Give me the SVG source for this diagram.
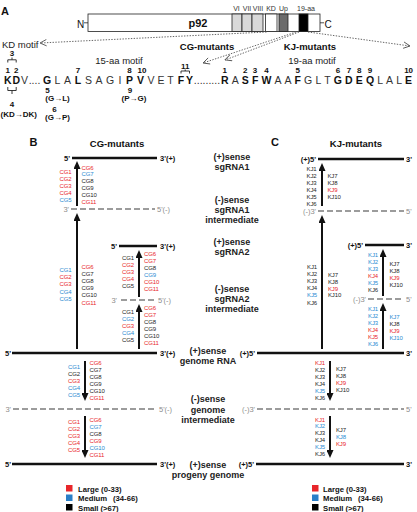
<svg xmlns="http://www.w3.org/2000/svg" width="417" height="512" viewBox="0 0 417 512">
<defs>
<style>
text{font-family:"Liberation Sans",Arial,sans-serif}
.ttl{font-size:11px;font-weight:bold;fill:#111}
.hd{font-size:9.5px;font-weight:bold;fill:#111;text-anchor:middle}
.dom{font-size:7px;fill:#333;text-anchor:middle}
.seq{font-size:10.5px;fill:#333;text-anchor:middle}
.seq .b{font-weight:bold;fill:#111}
.num{font-size:8px;font-weight:bold;fill:#111;text-anchor:middle}
.num.st{text-anchor:start}
.mot{font-size:9.5px;fill:#222}
.brk{fill:none;stroke:#222;stroke-width:0.9}
.dot{fill:none;stroke:#555;stroke-width:0.9;stroke-dasharray:1.4 1.4;marker-end:url(#open)}
.plus{stroke:#111;stroke-width:2.4}
.minus{stroke:#9c9c9c;stroke-width:1.8;stroke-dasharray:6 3}
.end{font-size:7.5px;font-weight:bold;fill:#111}
.endm{font-size:7.5px;fill:#8c8c8c}
.lbl{font-size:9px;font-weight:bold;fill:#222;text-anchor:middle}
.arr{stroke:#111;stroke-width:2;marker-end:url(#head)}
.mut{font-size:6px;letter-spacing:-0.15px}
.r{fill:#e8262a}.u{fill:#2a8bd2}.k{fill:#262626}
.leg{font-size:7.7px;font-weight:bold;fill:#111}
.seg{stroke:#222;stroke-width:0.8}
</style>
<marker id="open" viewBox="0 0 8 8" refX="7.5" refY="4" markerWidth="8" markerHeight="8" markerUnits="userSpaceOnUse" orient="auto">
<path d="M1,0.8 L7.5,4 L1,7.2" fill="none" stroke="#555" stroke-width="0.9"/>
</marker>
<marker id="head" viewBox="0 0 8 7" refX="1" refY="3.5" markerWidth="8" markerHeight="7" markerUnits="userSpaceOnUse" orient="auto">
<path d="M0,0 L8,3.5 L0,7 z" fill="#111"/>
</marker>
</defs>

<!-- Panel A: p92 domain bar -->
<g id="panel-a">
<text class="ttl" x="1" y="15">A</text>
<g id="p92-bar">
<text x="77" y="27.5" font-size="10" fill="#111">N</text>
<line x1="84" y1="22.8" x2="88" y2="22.8" stroke="#222" stroke-width="0.8"/>
<rect class="seg" x="88" y="14" width="232" height="17.5" fill="#fff"/>
<rect class="seg" x="232" y="14" width="10" height="17.5" fill="#d9d9d9"/>
<rect class="seg" x="242" y="14" width="10" height="17.5" fill="#d9d9d9"/>
<rect class="seg" x="252" y="14" width="11" height="17.5" fill="#d9d9d9"/>
<rect class="seg" x="265.5" y="14" width="11.5" height="17.5" fill="#fff"/>
<rect class="seg" x="279" y="14" width="9" height="17.5" fill="#6b6b6b"/>
<rect class="seg" x="299" y="14" width="9" height="17.5" fill="#000"/>
<line x1="320" y1="22.8" x2="324" y2="22.8" stroke="#222" stroke-width="0.8"/>
<text x="324.5" y="27.5" font-size="10" fill="#111">C</text>
<text x="198" y="27" font-size="11" font-weight="bold" fill="#111" text-anchor="middle">p92</text>
<text class="dom" x="236.5" y="11">VI</text>
<text class="dom" x="247" y="11">VII</text>
<text class="dom" x="258" y="11">VIII</text>
<text class="dom" x="271" y="11">KD</text>
<text class="dom" x="283.5" y="11">Up</text>
<text class="dom" x="306" y="11">19-aa</text>
</g>

<g id="motif-pointers">
<line class="dot" x1="266.5" y1="32" x2="40" y2="43"/>
<line class="dot" x1="296" y1="32" x2="203" y2="63"/>
<line class="dot" x1="299" y1="32" x2="225" y2="60"/>
<line class="dot" x1="308" y1="32" x2="410" y2="46"/>
</g>

<g id="motif-heads">
<text class="mot" x="2" y="47.5">KD motif</text>
<text class="hd" x="207" y="50">CG-mutants</text>
<text class="hd" x="310" y="50">KJ-mutants</text>
<text class="mot" x="119" y="63.5" text-anchor="middle">15-aa motif</text>
<text class="mot" x="312" y="63.5" text-anchor="middle">19-aa motif</text>
</g>

<g id="motif-sequence">
<text class="seq" y="84"><tspan class="b" x="7.8">K</tspan><tspan class="b" x="16.2">D</tspan><tspan x="24.5">V</tspan><tspan x="34.5">....</tspan><tspan class="b" x="47">G</tspan><tspan x="57.5">L</tspan><tspan x="67.5">A</tspan><tspan class="b" x="78">L</tspan><tspan x="88.5">S</tspan><tspan x="99">A</tspan><tspan x="110">G</tspan><tspan x="120">I</tspan><tspan class="b" x="129.5">P</tspan><tspan class="b" x="140.5">V</tspan><tspan x="151">V</tspan><tspan x="161">E</tspan><tspan x="170.5">T</tspan><tspan class="b" x="181">F</tspan><tspan class="b" x="189.5">Y</tspan><tspan x="207">.........</tspan><tspan class="b" x="224.8">R</tspan><tspan x="235.2">A</tspan><tspan class="b" x="245.3">S</tspan><tspan class="b" x="255.1">F</tspan><tspan class="b" x="266.4">W</tspan><tspan x="277.9">A</tspan><tspan x="288">A</tspan><tspan class="b" x="297.8">F</tspan><tspan x="308.2">G</tspan><tspan x="318.3">L</tspan><tspan x="327.5">T</tspan><tspan class="b" x="337.9">G</tspan><tspan class="b" x="348.9">D</tspan><tspan class="b" x="359.3">E</tspan><tspan class="b" x="370">Q</tspan><tspan x="380.1">L</tspan><tspan x="389.6">A</tspan><tspan x="399.1">L</tspan><tspan class="b" x="408.6">E</tspan></text>
<text class="num" y="72.5"><tspan x="7.8">1</tspan><tspan x="16.2">2</tspan><tspan x="78">7</tspan><tspan x="129.5">8</tspan><tspan x="142">10</tspan><tspan x="224.8">1</tspan><tspan x="245.3">2</tspan><tspan x="255.1">3</tspan><tspan x="266.4">4</tspan><tspan x="297.8">5</tspan><tspan x="337.9">6</tspan><tspan x="348.9">7</tspan><tspan x="359.3">8</tspan><tspan x="370">9</tspan><tspan x="408.6">10</tspan></text>
<text class="num" x="12" y="56">3</text>
<path class="brk" d="M7.8,62.5 V59.8 H16.2 V62.5 M12,59.8 V57.5"/>
<text class="num" x="185.2" y="68.5">11</text>
<path class="brk" d="M181,73.5 V71 H189.5 V73.5 M185.2,71 V69.5"/>
<path class="brk" d="M7.8,87 V90.5 H16.2 V87 M12,90.5 V94"/>
<text class="num" x="12" y="106.5">4</text>
<text class="num st" x="0.5" y="117" font-size="8.5">(KD→DK)</text>
<text class="num" x="47.5" y="93">5</text>
<text class="num" x="57.5" y="101" font-size="8.5">(G→L)</text>
<text class="num" x="54.5" y="112">6</text>
<text class="num" x="57.5" y="119.5" font-size="8.5">(G→P)</text>
<text class="num" x="130" y="93">9</text>
<text class="num" x="134" y="101" font-size="8.5">(P→G)</text>
</g>
</g>

<!-- Panel titles -->
<text class="ttl" x="29.5" y="146">B</text>
<text class="hd" x="117" y="146.5">CG-mutants</text>
<text class="ttl" x="271" y="146">C</text>
<text class="hd" x="356" y="146.5">KJ-mutants</text>

<!-- Replication intermediate labels -->
<g id="stage-labels">
<text class="lbl" x="232" y="160">(+)sense</text>
<text class="lbl" x="232" y="170">sgRNA1</text>
<text class="lbl" x="232" y="203">(-)sense</text>
<text class="lbl" x="232" y="213">sgRNA1</text>
<text class="lbl" x="232" y="223">intermediate</text>
<text class="lbl" x="232" y="245">(+)sense</text>
<text class="lbl" x="232" y="255">sgRNA2</text>
<text class="lbl" x="232" y="292">(-)sense</text>
<text class="lbl" x="232" y="302">sgRNA2</text>
<text class="lbl" x="232" y="312">intermediate</text>
<text class="lbl" x="208" y="354">(+)sense</text>
<text class="lbl" x="208" y="364">genome RNA</text>
<text class="lbl" x="208" y="402">(-)sense</text>
<text class="lbl" x="208" y="413">genome</text>
<text class="lbl" x="208" y="423">intermediate</text>
<text class="lbl" x="208" y="468">(+)sense</text>
<text class="lbl" x="208" y="478">progeny genome</text>
</g>

<!-- Panel B strands -->
<g id="cg-sgrna1">
<line class="plus" x1="72" y1="158" x2="157" y2="158"/>
<text class="end" x="70" y="160.7" text-anchor="end">5'</text>
<text class="end" x="160" y="160.7">3'(+)</text>
</g>
<g id="cg-sgrna1-minus">
<line class="minus" x1="71" y1="209" x2="155" y2="209"/>
<text class="endm" x="69" y="211.7" text-anchor="end">3'</text>
<text class="endm" x="157" y="211.7">5'(-)</text>
</g>
<g id="cg-sgrna2">
<line class="plus" x1="119" y1="246" x2="157" y2="246"/>
<text class="end" x="117" y="248.7" text-anchor="end">5'</text>
<text class="end" x="160" y="248.7">3'(+)</text>
</g>
<g id="cg-sgrna2-minus">
<line class="minus" x1="121" y1="300" x2="156" y2="300"/>
<text class="endm" x="117" y="302.7" text-anchor="end">3'</text>
<text class="endm" x="158" y="302.7">5'(-)</text>
</g>
<g id="cg-genome">
<line class="plus" x1="12" y1="353" x2="157" y2="353"/>
<text class="end" x="11" y="355.7" text-anchor="end">5'</text>
<text class="end" x="160" y="355.7">3'(+)</text>
</g>
<g id="cg-genome-minus">
<line class="minus" x1="13" y1="409" x2="156" y2="409"/>
<text class="endm" x="11" y="411.7" text-anchor="end">3'</text>
<text class="endm" x="159" y="411.7">5'(-)</text>
</g>
<g id="cg-progeny">
<line class="plus" x1="12" y1="464" x2="157" y2="464"/>
<text class="end" x="11" y="466.7" text-anchor="end">5'</text>
<text class="end" x="160" y="466.7">3'(+)</text>
</g>

<!-- Panel C strands -->
<g id="kj-sgrna1">
<line class="plus" x1="318" y1="159" x2="404" y2="159"/>
<text class="end" x="316" y="161.7" text-anchor="end">(+)5'</text>
<text class="end" x="406" y="161.7">3'</text>
</g>
<g id="kj-sgrna1-minus">
<line class="minus" x1="318" y1="211" x2="404" y2="211"/>
<text class="endm" x="316" y="213.7" text-anchor="end">(-)3'</text>
<text class="endm" x="406" y="213.7">5'</text>
</g>
<g id="kj-sgrna2">
<line class="plus" x1="365" y1="245" x2="404" y2="245"/>
<text class="end" x="363" y="247.7" text-anchor="end">(+)5'</text>
<text class="end" x="406" y="247.7">3'</text>
</g>
<g id="kj-sgrna2-minus">
<line class="minus" x1="368" y1="299" x2="404" y2="299"/>
<text class="endm" x="366" y="301.7" text-anchor="end">(-)3'</text>
<text class="endm" x="406" y="301.7">5'</text>
</g>
<g id="kj-genome">
<line class="plus" x1="257" y1="353" x2="404" y2="353"/>
<text class="end" x="255" y="355.7" text-anchor="end">(+)5'</text>
<text class="end" x="406" y="355.7">3'</text>
</g>
<g id="kj-genome-minus">
<line class="minus" x1="257" y1="409" x2="404" y2="409"/>
<text class="endm" x="255" y="411.7" text-anchor="end">(-)3'</text>
<text class="endm" x="406" y="411.7">5'</text>
</g>
<g id="kj-progeny">
<line class="plus" x1="256" y1="464" x2="404" y2="464"/>
<text class="end" x="254" y="466.7" text-anchor="end">(+)5'</text>
<text class="end" x="406" y="466.7">3'</text>
</g>

<!-- Synthesis steps with mutant accumulation per step -->
<g id="connectors">
<g id="cg-step-sg1">
<line class="arr" x1="77" y1="206" x2="77" y2="168"/>
<text class="mut" text-anchor="end"><tspan x="71.5" y="174" class="r">CG1</tspan><tspan x="71.5" dy="6.9" class="r">CG2</tspan><tspan x="71.5" dy="6.9" class="r">CG3</tspan><tspan x="71.5" dy="6.9" class="r">CG4</tspan><tspan x="71.5" dy="6.9" class="u">CG5</tspan></text>
<text class="mut"><tspan x="81.5" y="169.5" class="r">CG6</tspan><tspan x="81.5" dy="6.9" class="u">CG7</tspan><tspan x="81.5" dy="6.9" class="k">CG8</tspan><tspan x="81.5" dy="6.9" class="k">CG9</tspan><tspan x="81.5" dy="6.9" class="k">CG10</tspan><tspan x="81.5" dy="6.9" class="r">CG11</tspan></text>
</g>
<g id="cg-step-sg1-minus">
<line class="arr" x1="77" y1="349" x2="77" y2="220"/>
<text class="mut" text-anchor="end"><tspan x="71.5" y="272.2" class="u">CG1</tspan><tspan x="71.5" dy="7.1" class="r">CG2</tspan><tspan x="71.5" dy="7.1" class="r">CG3</tspan><tspan x="71.5" dy="7.1" class="u">CG4</tspan><tspan x="71.5" dy="7.1" class="u">CG5</tspan></text>
<text class="mut"><tspan x="81.5" y="269" class="r">CG6</tspan><tspan x="81.5" dy="7.1" class="k">CG7</tspan><tspan x="81.5" dy="7.1" class="k">CG8</tspan><tspan x="81.5" dy="7.1" class="k">CG9</tspan><tspan x="81.5" dy="7.1" class="k">CG10</tspan><tspan x="81.5" dy="7.1" class="r">CG11</tspan></text>
</g>
<g id="cg-step-sg2">
<line class="arr" x1="139" y1="297" x2="139" y2="257"/>
<text class="mut" text-anchor="end"><tspan x="134" y="260" class="k">CG1</tspan><tspan x="134" dy="7" class="r">CG2</tspan><tspan x="134" dy="7" class="r">CG3</tspan><tspan x="134" dy="7" class="r">CG4</tspan><tspan x="134" dy="7" class="k">CG5</tspan></text>
<text class="mut"><tspan x="144" y="255.5" class="r">CG6</tspan><tspan x="144" dy="7" class="r">CG7</tspan><tspan x="144" dy="7" class="k">CG8</tspan><tspan x="144" dy="7" class="u">CG9</tspan><tspan x="144" dy="7" class="r">CG10</tspan><tspan x="144" dy="7" class="r">CG11</tspan></text>
</g>
<g id="cg-step-sg2-minus">
<line class="arr" x1="139" y1="349" x2="139" y2="311"/>
<text class="mut" text-anchor="end"><tspan x="134" y="314" class="k">CG1</tspan><tspan x="134" dy="7" class="u">CG2</tspan><tspan x="134" dy="7" class="r">CG3</tspan><tspan x="134" dy="7" class="u">CG4</tspan><tspan x="134" dy="7" class="k">CG5</tspan></text>
<text class="mut"><tspan x="144" y="309.5" class="r">CG6</tspan><tspan x="144" dy="7" class="r">CG7</tspan><tspan x="144" dy="7" class="k">CG8</tspan><tspan x="144" dy="7" class="k">CG9</tspan><tspan x="144" dy="7" class="k">CG10</tspan><tspan x="144" dy="7" class="r">CG11</tspan></text>
</g>
<g id="cg-step-genome-minus">
<line class="arr" x1="85" y1="361" x2="85" y2="394"/>
<text class="mut" text-anchor="end"><tspan x="80" y="369" class="u">CG1</tspan><tspan x="80" dy="6.9" class="k">CG2</tspan><tspan x="80" dy="6.9" class="r">CG3</tspan><tspan x="80" dy="6.9" class="u">CG4</tspan><tspan x="80" dy="6.9" class="u">CG5</tspan></text>
<text class="mut"><tspan x="89.5" y="365" class="r">CG6</tspan><tspan x="89.5" dy="7" class="k">CG7</tspan><tspan x="89.5" dy="7" class="k">CG8</tspan><tspan x="89.5" dy="7" class="k">CG9</tspan><tspan x="89.5" dy="7" class="k">CG10</tspan><tspan x="89.5" dy="7" class="r">CG11</tspan></text>
</g>
<g id="cg-step-progeny">
<line class="arr" x1="85" y1="416" x2="85" y2="451"/>
<text class="mut" text-anchor="end"><tspan x="80" y="424" class="r">CG1</tspan><tspan x="80" dy="7" class="r">CG2</tspan><tspan x="80" dy="7" class="r">CG3</tspan><tspan x="80" dy="7" class="r">CG4</tspan><tspan x="80" dy="7" class="r">CG5</tspan></text>
<text class="mut"><tspan x="89.5" y="421.5" class="r">CG6</tspan><tspan x="89.5" dy="7" class="u">CG7</tspan><tspan x="89.5" dy="7" class="k">CG8</tspan><tspan x="89.5" dy="7" class="r">CG9</tspan><tspan x="89.5" dy="7" class="u">CG10</tspan><tspan x="89.5" dy="7" class="r">CG11</tspan></text>
</g>

<g id="kj-step-sg1">
<line class="arr" x1="322" y1="206" x2="322" y2="170"/>
<text class="mut" text-anchor="end"><tspan x="316.5" y="170.5" class="k">KJ1</tspan><tspan x="316.5" dy="7" class="k">KJ2</tspan><tspan x="316.5" dy="7" class="k">KJ3</tspan><tspan x="316.5" dy="7" class="k">KJ4</tspan><tspan x="316.5" dy="7" class="k">KJ5</tspan><tspan x="316.5" dy="7" class="k">KJ6</tspan></text>
<text class="mut"><tspan x="327.5" y="178" class="k">KJ7</tspan><tspan x="327.5" dy="7" class="k">KJ8</tspan><tspan x="327.5" dy="7" class="r">KJ9</tspan><tspan x="327.5" dy="7" class="k">KJ10</tspan></text>
</g>
<g id="kj-step-sg1-minus">
<line class="arr" x1="322" y1="349" x2="322" y2="222"/>
<text class="mut" text-anchor="end"><tspan x="317" y="269" class="k">KJ1</tspan><tspan x="317" dy="7.1" class="k">KJ2</tspan><tspan x="317" dy="7.1" class="k">KJ3</tspan><tspan x="317" dy="7.1" class="k">KJ4</tspan><tspan x="317" dy="7.1" class="u">KJ5</tspan><tspan x="317" dy="7.1" class="k">KJ6</tspan></text>
<text class="mut"><tspan x="328" y="277" class="k">KJ7</tspan><tspan x="328" dy="6.8" class="k">KJ8</tspan><tspan x="328" dy="6.8" class="r">KJ9</tspan><tspan x="328" dy="6.8" class="k">KJ10</tspan></text>
</g>
<g id="kj-step-sg2">
<line class="arr" x1="383" y1="296" x2="383" y2="256"/>
<text class="mut" text-anchor="end"><tspan x="378" y="256.5" class="u">KJ1</tspan><tspan x="378" dy="7" class="u">KJ2</tspan><tspan x="378" dy="7" class="u">KJ3</tspan><tspan x="378" dy="7" class="r">KJ4</tspan><tspan x="378" dy="7" class="u">KJ5</tspan><tspan x="378" dy="7" class="k">KJ6</tspan></text>
<text class="mut"><tspan x="389.5" y="265.5" class="k">KJ7</tspan><tspan x="389.5" dy="7" class="k">KJ8</tspan><tspan x="389.5" dy="7" class="r">KJ9</tspan><tspan x="389.5" dy="7" class="k">KJ10</tspan></text>
</g>
<g id="kj-step-sg2-minus">
<line class="arr" x1="383" y1="349" x2="383" y2="310"/>
<text class="mut" text-anchor="end"><tspan x="378" y="310.5" class="u">KJ1</tspan><tspan x="378" dy="7" class="u">KJ2</tspan><tspan x="378" dy="7" class="u">KJ3</tspan><tspan x="378" dy="7" class="r">KJ4</tspan><tspan x="378" dy="7" class="r">KJ5</tspan><tspan x="378" dy="7" class="u">KJ6</tspan></text>
<text class="mut"><tspan x="389.5" y="319" class="u">KJ7</tspan><tspan x="389.5" dy="7" class="k">KJ8</tspan><tspan x="389.5" dy="7" class="r">KJ9</tspan><tspan x="389.5" dy="7" class="u">KJ10</tspan></text>
</g>
<g id="kj-step-genome-minus">
<line class="arr" x1="330" y1="361" x2="330" y2="394"/>
<text class="mut" text-anchor="end"><tspan x="325" y="365" class="r">KJ1</tspan><tspan x="325" dy="7" class="k">KJ2</tspan><tspan x="325" dy="7" class="k">KJ3</tspan><tspan x="325" dy="7" class="k">KJ4</tspan><tspan x="325" dy="7" class="u">KJ5</tspan><tspan x="325" dy="7" class="k">KJ6</tspan></text>
<text class="mut"><tspan x="336" y="370.5" class="k">KJ7</tspan><tspan x="336" dy="7" class="k">KJ8</tspan><tspan x="336" dy="7" class="r">KJ9</tspan><tspan x="336" dy="7" class="k">KJ10</tspan></text>
</g>
<g id="kj-step-progeny">
<line class="arr" x1="330" y1="416" x2="330" y2="451"/>
<text class="mut" text-anchor="end"><tspan x="325" y="421.5" class="r">KJ1</tspan><tspan x="325" dy="6.8" class="u">KJ2</tspan><tspan x="325" dy="6.8" class="k">KJ3</tspan><tspan x="325" dy="6.8" class="k">KJ4</tspan><tspan x="325" dy="6.8" class="u">KJ5</tspan><tspan x="325" dy="6.8" class="k">KJ6</tspan></text>
<text class="mut"><tspan x="336" y="432" class="k">KJ7</tspan><tspan x="336" dy="7" class="u">KJ8</tspan><tspan x="336" dy="7" class="r">KJ9</tspan></text>
</g>
</g>

<!-- Legends -->
<g id="legend-b">
<rect x="66" y="485" width="6.5" height="6.5" fill="#e8262a"/>
<rect x="66" y="494.5" width="6.5" height="6.5" fill="#2a7fc8"/>
<rect x="66" y="504" width="6.5" height="6.5" fill="#000"/>
<text class="leg" x="78" y="491.5">Large (0-33)</text>
<text class="leg" x="78" y="501">Medium</text><text class="leg" x="113" y="501">(34-66)</text>
<text class="leg" x="78" y="510.5">Small</text><text class="leg" x="100.5" y="510.5">(&gt;67)</text>
</g>
<g id="legend-c">
<rect x="312" y="485" width="6.5" height="6.5" fill="#e8262a"/>
<rect x="312" y="494.5" width="6.5" height="6.5" fill="#2a7fc8"/>
<rect x="312" y="504" width="6.5" height="6.5" fill="#000"/>
<text class="leg" x="323" y="491.5">Large (0-33)</text>
<text class="leg" x="323" y="501">Medium</text><text class="leg" x="358" y="501">(34-66)</text>
<text class="leg" x="323" y="510.5">Small</text><text class="leg" x="345.5" y="510.5">(&gt;67)</text>
</g>
</svg>
